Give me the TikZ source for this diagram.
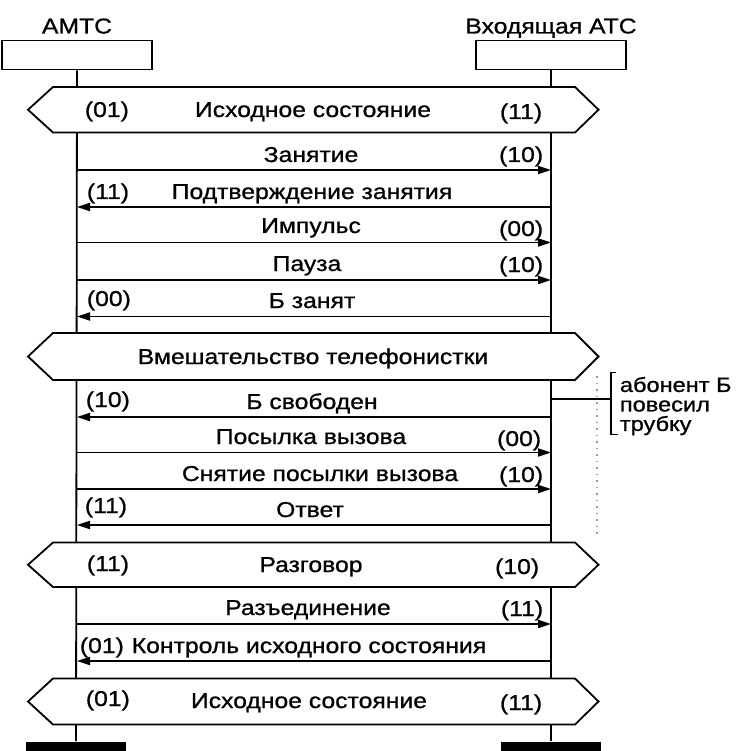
\documentclass[tikz,border=0pt]{standalone}
\usepackage{fontspec}
\setmainfont{Liberation Sans}[FakeStretch=1.15,FakeBold=0.9]
\usetikzlibrary{arrows.meta}

% horizontal state bar (double-pointed) between the two lifelines
\newcommand{\statebar}[3]{%
  \draw[hexbar] (28,{(#2+#3)/2}) coordinate (#1-w) -- (53,#2) -- (575,#2)
    -- (598.5,{(#2+#3)/2}) coordinate (#1-e) -- (575,#3) -- (53,#3) -- cycle;}

\begin{document}
\begin{tikzpicture}[x=1pt,y=-1pt,
  line width=1.8pt,
  lbl/.style={font=\fontsize{21.5}{24}\selectfont, inner sep=0pt},
  note/.style={font=\fontsize{20.5}{19.5}\selectfont, inner sep=0pt, align=left, anchor=north west},
  stationbox/.style={draw, minimum width=150pt, minimum height=29pt, inner sep=0pt},
  endbar/.style={fill=black, minimum width=100pt, minimum height=9pt, inner sep=0pt},
  hexbar/.style={draw, fill=white, line join=miter},
  msg/.style={-{Triangle[length=13pt,width=8pt]}},
  noise/.style={draw=gray!80, line width=1.4pt, dash pattern=on 1.5pt off 5pt}]
\useasboundingbox (0,0) rectangle (739,751);

% stations
\node[lbl, anchor=base] (amtsname) at (77,33.5) {АМТС};
\node[lbl, anchor=base] (atsname) at (551,33.5) {Входящая АТС};
\node[stationbox] (amts) at (77,55) {};
\node[stationbox] (ats) at (551,55) {};
\node[endbar] (amtsend) at (76,746.5) {};
\node[endbar] (atsend) at (551,746.5) {};

% lifelines
\draw (amts.south) -- (amtsend.north);
\draw (ats.south) -- (atsend.north);

% points on the lifelines for each signal
\foreach \n/\y in {1/170,2/207,3/242.5,4/280,5/316.5,6/417,7/452.5,8/489,9/525,10/624,11/661}{
  \coordinate (mL\n) at (77,\y);
  \coordinate (mR\n) at (551,\y);
}

% state bars
\statebar{sa}{87}{132.5}
\node[lbl, anchor=base west] (sa1) at (84,117) {(01)};
\node[lbl, anchor=base] (sa2) at (313,117) {Исходное состояние};
\node[lbl, anchor=base east] (sa3) at (543,119) {(11)};

\statebar{sb}{333}{380}
\node[lbl, anchor=base] (sb2) at (313,364) {Вмешательство телефонистки};

\statebar{sc}{542.5}{587}
\node[lbl, anchor=base west] (sc1) at (86,571) {(11)};
\node[lbl, anchor=base] (sc2) at (311,572) {Разговор};
\node[lbl, anchor=base east] (sc3) at (540,574) {(10)};

\statebar{sd}{678.5}{724.5}
\node[lbl, anchor=base west] (sd1) at (85,706) {(01)};
\node[lbl, anchor=base] (sd2) at (309,708) {Исходное состояние};
\node[lbl, anchor=base east] (sd3) at (543,710) {(11)};

% signals
\draw[msg] (mL1) -- (mR1);
\node[lbl, anchor=base] (t1) at (311,162) {Занятие};
\node[lbl, anchor=base east] (c1) at (544,162) {(10)};

\draw[msg] (mR2) -- (mL2);
\node[lbl, anchor=base] (t2) at (312,199) {Подтверждение занятия};
\node[lbl, anchor=base west] (c2) at (86,199) {(11)};

\draw[msg] (mL3) -- (mR3);
\node[lbl, anchor=base] (t3) at (311,233) {Импульс};
\node[lbl, anchor=base east] (c3) at (544,236) {(00)};

\draw[msg] (mL4) -- (mR4);
\node[lbl, anchor=base] (t4) at (307,271) {Пауза};
\node[lbl, anchor=base east] (c4) at (544,272) {(10)};

\draw[msg] (mR5) -- (mL5);
\node[lbl, anchor=base] (t5) at (312,308) {Б занят};
\node[lbl, anchor=base west] (c5) at (86,306) {(00)};

\draw[msg] (mR6) -- (mL6);
\node[lbl, anchor=base] (t6) at (312,409) {Б свободен};
\node[lbl, anchor=base west] (c6) at (85,407) {(10)};

\draw[msg] (mL7) -- (mR7);
\node[lbl, anchor=base] (t7) at (311,444) {Посылка вызова};
\node[lbl, anchor=base east] (c7) at (542,446) {(00)};

\draw[msg] (mL8) -- (mR8);
\node[lbl, anchor=base] (t8) at (320,481) {Снятие посылки вызова};
\node[lbl, anchor=base east] (c8) at (544,482) {(10)};

\draw[msg] (mR9) -- (mL9);
\node[lbl, anchor=base] (t9) at (310,517) {Ответ};
\node[lbl, anchor=base west] (c9) at (84,513) {(11)};

\draw[msg] (mL10) -- (mR10);
\node[lbl, anchor=base] (t10) at (308,615) {Разъединение};
\node[lbl, anchor=base east] (c10) at (544,616) {(11)};

\draw[msg] (mR11) -- (mL11);
\node[lbl, anchor=base] (t11) at (309,653) {Контроль исходного состояния};
\node[lbl, anchor=base west] (c11) at (79,653) {(01)};

% note about subscriber B
\coordinate (hookL) at (551,399);
\coordinate (hookR) at (611,399);
\draw (hookL) -- (hookR);
\draw (616,372.5) -- (611,372.5) -- (611,434.5) -- (618,434.5);
\node[note] (hooknote) at (619,376) {абонент Б\\повесил\\трубку};
\draw[noise] (597,376) -- (597,534);
\end{tikzpicture}
\end{document}
